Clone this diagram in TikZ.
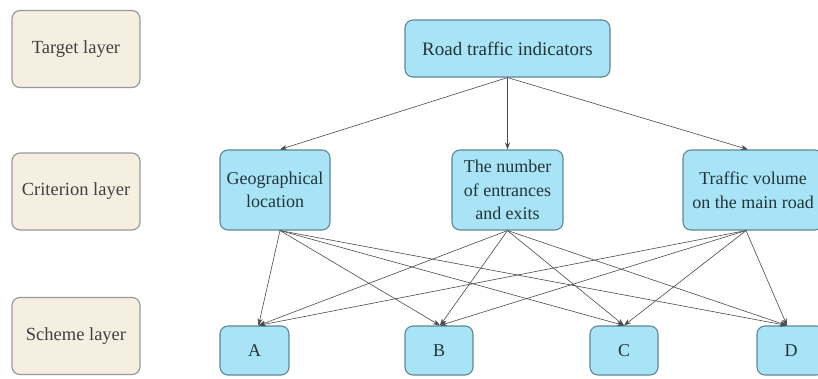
\documentclass[tikz,border=0pt]{standalone}
\usepackage{fontspec}
\setmainfont{Liberation Serif}
\usetikzlibrary{arrows.meta}
\definecolor{bluefill}{HTML}{A8E4F5}
\definecolor{blueedge}{HTML}{5E8797}
\definecolor{beigefill}{HTML}{F4EFE0}
\definecolor{beigeedge}{HTML}{9A9A96}
\definecolor{txtblue}{HTML}{22353A}
\definecolor{txtgrey}{HTML}{404040}
\definecolor{linegrey}{HTML}{4A4A4A}
\tikzset{
  layerbox/.style={draw=beigeedge, line width=1.2pt, fill=beigefill, rounded corners=8pt,
    minimum width=128pt, minimum height=77pt, text=txtgrey, font=\fontsize{18.5}{21}\selectfont, inner sep=0pt},
  bluebox/.style={draw=blueedge, line width=1.1pt, fill=bluefill, rounded corners=8pt,
    text=txtblue, font=\fontsize{18}{23.5}\selectfont, align=center, inner sep=0pt},
  conn/.style={draw=linegrey, line width=0.6pt, -{Stealth[length=7pt,width=5pt]}}
}
\begin{document}
\begin{tikzpicture}[x=1pt,y=-1pt]
\clip (0,0) rectangle (818,378);
\fill[white] (0,0) rectangle (818,378);
% layer labels
\node[layerbox] (lt) at (76,49) {Target layer};
\node[layerbox] (lc) at (76,191.5) {Criterion layer};
\node[layerbox] (ls) at (76,336) {Scheme layer};
% hierarchy
\node[bluebox, minimum width=205pt, minimum height=57pt, font=\fontsize{19}{23}\selectfont] (road) at (507.5,48.5) {Road traffic indicators};
\node[bluebox, minimum width=110pt, minimum height=80pt] (geo) at (275,190) {Geographical\\location};
\node[bluebox, minimum width=111pt, minimum height=80pt] (num) at (507.5,190) {The number\\of entrances\\and exits};
\node[bluebox, minimum width=140pt, minimum height=80pt] (tra) at (753,190) {Traffic volume\\on the main road};
\node[bluebox, minimum width=69pt, minimum height=49pt] (A) at (254.5,350.5) {A};
\node[bluebox, minimum width=68pt, minimum height=49pt] (B) at (439,350.5) {B};
\node[bluebox, minimum width=68pt, minimum height=49pt] (C) at (624,350.5) {C};
\node[bluebox, minimum width=68pt, minimum height=49pt] (D) at (791,350.5) {D};
% top arrows
\draw[conn] (road.south) -- ([xshift=5pt]geo.north);
\draw[conn] (road.south) -- (num.north);
\draw[conn] (road.south) -- ([xshift=-5pt]tra.north);
% criterion to scheme
\foreach \s/\dx in {geo/5pt, num/0pt, tra/-7pt}{
  \foreach \t/\tx in {A/4pt, B/1pt, C/0pt, D/-4pt}{
    \draw[conn] ([xshift=\dx]\s.south) -- ([xshift=\tx]\t.north);
  }
}
\end{tikzpicture}
\end{document}
